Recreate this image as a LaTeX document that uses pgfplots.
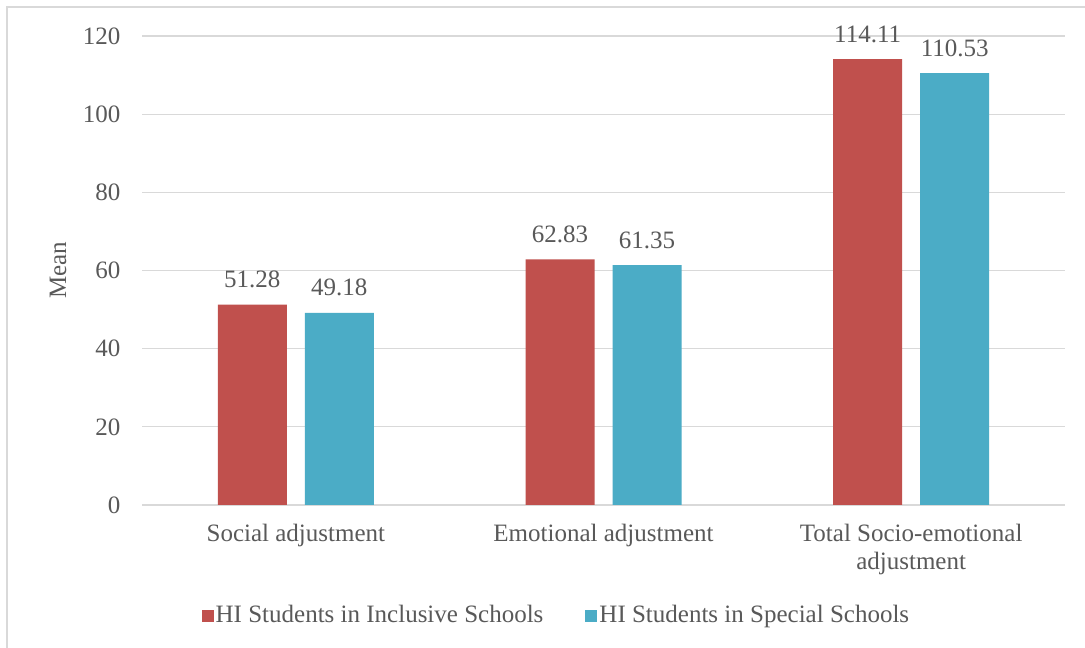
\documentclass[border=0pt]{standalone}
\usepackage{pgfplots}
\pgfplotsset{compat=1.18}
\usepackage{fontspec}
\setmainfont{Liberation Serif}
\definecolor{cred}{HTML}{C0504D}
\definecolor{cblue}{HTML}{4BACC6}
\definecolor{ctext}{HTML}{595959}
\definecolor{cgrid}{HTML}{D9D9D9}
\begin{document}
\begin{tikzpicture}
\path[use as bounding box] (0pt,0pt) rectangle (1085pt,648pt);
\fill[white] (0pt,0pt) rectangle (1085pt,648pt);
\draw[cgrid, line width=1.5pt] (7pt,0pt) -- (7pt,641pt) -- (1085pt,641pt);
\begin{axis}[
  at={(142pt,143pt)}, anchor=south west,
  scale only axis, width=923pt, height=469pt,
  ybar=18pt, bar width=69pt,
  xmin=-0.5, xmax=2.5, ymin=0, ymax=120,
  xtick={0,1,2},
  xticklabels={Social adjustment, Emotional adjustment, {Total Socio-emotional\\adjustment}},
  ytick={0,20,...,120},
  major tick length=0pt,
  axis x line*=bottom, axis y line*=left,
  x axis line style={cgrid, line width=2pt, -},
  y axis line style={draw=none},
  ymajorgrids, grid style={cgrid, line width=1.3pt},
  /pgf/number format/assume math mode=true,
  font=\fontsize{25}{28}\selectfont,
  tick label style={text=ctext},
  xticklabel style={align=center, anchor=north, yshift=-16pt},
  yticklabel style={anchor=east, xshift=-18pt},
  ylabel={Mean},
  every axis y label/.style={at={(axis description cs:-0.091,0.5)}, rotate=90, anchor=center, text=ctext, font=\fontsize{25}{28}\selectfont},
  nodes near coords,
  nodes near coords style={text=ctext, font=\fontsize{25}{28}\selectfont, /pgf/number format/fixed, /pgf/number format/precision=2, /pgf/number format/fixed zerofill, /pgf/number format/assume math mode=true, yshift=13pt},
  legend columns=2,
  legend style={at={(axis description cs:0.449,-0.2345)}, anchor=center, draw=none, fill=none, text=ctext, font=\fontsize{25}{28}\selectfont, /tikz/every even column/.append style={column sep=40pt}, nodes={inner xsep=2pt}},
  legend image code/.code={\fill[#1] (0pt,-7pt) rectangle (12pt,5pt);},
]
\addplot[fill=cred, draw=none] coordinates {(0,51.28) (1,62.83) (2,114.11)};
\addplot[fill=cblue, draw=none] coordinates {(0,49.18) (1,61.35) (2,110.53)};
\legend{HI Students in Inclusive Schools, HI Students in Special Schools}
\end{axis}
\end{tikzpicture}
\end{document}
